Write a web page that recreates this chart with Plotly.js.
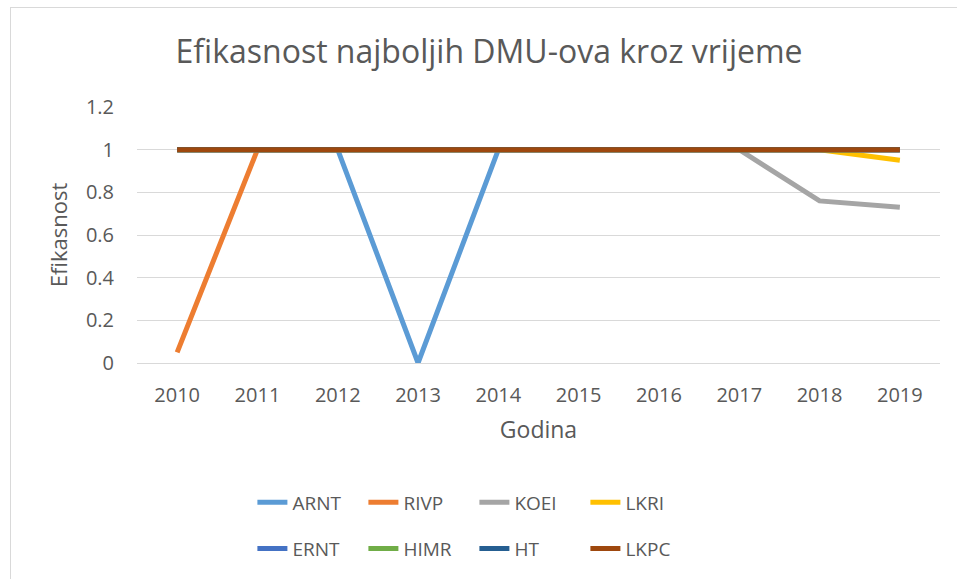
<!DOCTYPE html>
<html>
<head>
<meta charset="utf-8">
<script src="https://cdn.plot.ly/plotly-3.0.1.min.js"></script>
<style>
html,body{margin:0;padding:0;background:#fff;}
#wrap{position:relative;width:957px;height:579px;overflow:hidden;}
#chart{width:957px;height:579px;}
#frame{position:absolute;left:10px;top:7px;width:960px;height:600px;border:1px solid #d9d9d9;pointer-events:none;}
</style>
</head>
<body>
<div id="wrap"><div id="chart"></div><div id="frame"></div></div>
<script>
const years = ['2010','2011','2012','2013','2014','2015','2016','2017','2018','2019'];
const seriesNames = ['ARNT','RIVP','KOEI','LKRI','ERNT','HIMR','HT','LKPC'];
const ARNT = [1,1,1,0,1,1,1,1,1,1];
const RIVP = [0.05,1,1,1,1,1,1,1,1,1];
const KOEI = [1,1,1,1,1,1,1,1,0.76,0.73];
const LKRI = [1,1,1,1,1,1,1,1,1,0.95];
const ERNT = [1,1,1,1,1,1,1,1,1,1];
const HIMR = [1,1,1,1,1,1,1,1,1,1];
const HT   = [1,1,1,1,1,1,1,1,1,1];
const LKPC = [1,1,1,1,1,1,1,1,1,1];
const seriesValues = [ARNT,RIVP,KOEI,LKRI,ERNT,HIMR,HT,LKPC];
const colors = ['#5B9BD5','#ED7D31','#A5A5A5','#FFC000','#4472C4','#70AD47','#255E91','#9E480E'];

const font = "Open Sans, Liberation Sans, sans-serif";
const marginL = 137, marginR = 17, W = 957;
const plotW = W - marginL - marginR;
const colStartPx = [257, 368, 479, 590];
const rowY = [-0.545, -0.725];

const traces = seriesNames.map((n,i)=>({
  type:'scatter', mode:'lines', name:n, x:years, y:seriesValues[i],
  line:{color:colors[i], width:5},
  legend: i===0 ? 'legend' : 'legend' + (i+1)
}));

const layout = {
  width:W, height:579,
  margin:{l:marginL, r:marginR, t:107, b:216},
  paper_bgcolor:'#fff', plot_bgcolor:'#fff',
  font:{family:font, color:'#595959'},
  title:{text:'Efikasnost najboljih DMU-ova kroz vrijeme', font:{family:font, size:32, color:'#595959'},
         x:0.511, xref:'container', xanchor:'center', y:0.91, yanchor:'middle'},
  xaxis:{type:'category', range:[-0.5,9.5], showgrid:false, zeroline:false,
         showline:true, linecolor:'#d9d9d9', linewidth:1, ticks:'', ticklabelstandoff:14,
         tickfont:{family:font, size:20, color:'#595959'},
         title:{text:'Godina', font:{family:font, size:23, color:'#595959'}, standoff:14}},
  yaxis:{range:[0,1.2], dtick:0.2, showgrid:true, gridcolor:'#d9d9d9', gridwidth:1,
         zeroline:false, showline:false, ticks:'', ticklabelstandoff:22,
         tickfont:{family:font, size:20, color:'#595959'},
         title:{text:'Efikasnost', font:{family:font, size:22, color:'#595959'}, standoff:12}},
  showlegend:true
};
seriesNames.forEach((n,i)=>{
  const key = i===0 ? 'legend' : 'legend' + (i+1);
  layout[key] = {
    orientation:'h', xanchor:'left', yanchor:'middle',
    x:(colStartPx[i%4] - 4.6 - marginL)/plotW, y:rowY[Math.floor(i/4)],
    font:{family:font, size:19, color:'#595959'},
    bgcolor:'rgba(0,0,0,0)', itemclick:false
  };
});
Plotly.newPlot('chart', traces, layout, {displayModeBar:false, staticPlot:true});
</script>
</body>
</html>
